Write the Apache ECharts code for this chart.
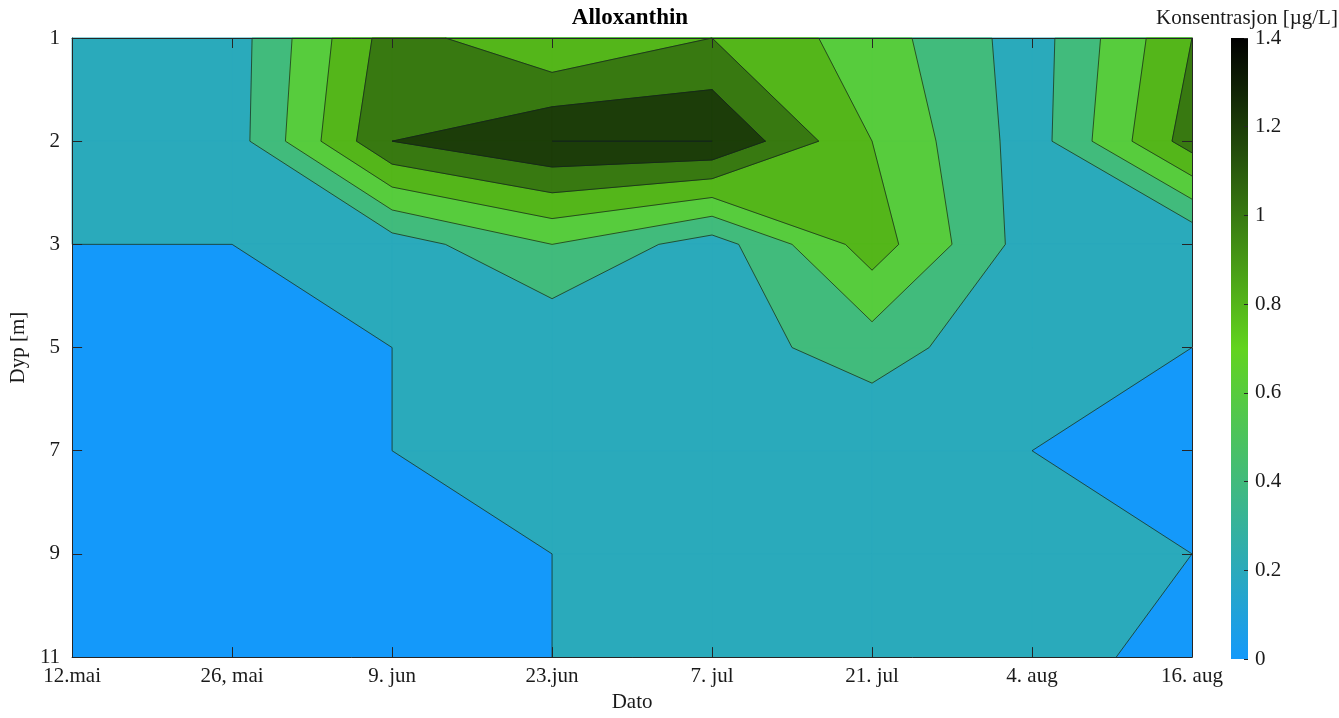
<!DOCTYPE html>
<html>
<head>
<meta charset="utf-8">
<script src="https://cdn.jsdelivr.net/npm/echarts@6/dist/echarts.min.js"></script>
<style>html,body{margin:0;padding:0;background:#fff}#chart{width:1339px;height:718px}</style>
</head>
<body>
<div id="chart"></div>
<script>
// ---- data ----
const dates = ['12.mai', '26, mai', '9. jun', '23.jun', '7. jul', '21. jul', '4. aug', '16. aug'];
const depths = ['1', '2', '3', '5', '7', '9', '11'];
// Alloxanthin concentration [µg/L], one array per depth, values per date
const depth1  = [0.1, 0.1, 0.9, 0.6, 0.8, 0.5, 0.1, 0.8];
const depth2  = [0.1, 0.1, 1.0, 1.2, 1.2, 0.6, 0.1, 0.9];
const depth3  = [0.0, 0.0, 0.1, 0.4, 0.1, 0.7, 0.1, 0.01];
const depth5  = [0.0, 0.0, 0.0, 0.02, 0.1, 0.3, 0.02, 0.0];
const depth7  = [0.0, 0.0, 0.0, 0.05, 0.1, 0.01, 0.0, -0.05];
const depth9  = [0.0, 0.0, 0.0, 0.0, 0.1, 0.1, 0.1, 0.0];
const depth11 = [0.0, 0.0, 0.0, 0.0, 0.1, 0.1, 0.1, -0.09];
const levels = [0, 0.2, 0.4, 0.6, 0.8, 1.0, 1.2];
const cbMin = 0, cbMax = 1.4, cbStep = 0.2;

const Z = [depth1, depth2, depth3, depth5, depth7, depth9, depth11];
const NX = dates.length, NY = depths.length;

// colormap: blue -> green -> black
const cmapStops = [[0, [20, 153, 250]], [0.7, [98, 212, 30]], [1.4, [0, 0, 0]]];
function cmap(v) {
  for (let s = 0; s < cmapStops.length - 1; s++) {
    const a = cmapStops[s], b = cmapStops[s + 1];
    if (v <= b[0] || s === cmapStops.length - 2) {
      const t = Math.max(0, Math.min(1, (v - a[0]) / (b[0] - a[0])));
      const c = a[1].map((x, n) => Math.round(x + (b[1][n] - x) * t));
      return 'rgb(' + c.join(',') + ')';
    }
  }
}

function cellCorners(i, j) {
  return [[i, j], [i + 1, j], [i + 1, j + 1], [i, j + 1]];
}
function val(p) { return Z[p[1]][p[0]]; }
function cross(a, b, L) {
  const va = val(a), vb = val(b);
  let t = (L - va) / (vb - va);
  t = Math.max(0, Math.min(1, t));
  return [a[0] + (b[0] - a[0]) * t, a[1] + (b[1] - a[1]) * t];
}
function fillPoly(i, j, L) {
  const c = cellCorners(i, j);
  const inside = p => val(p) > L + 1e-9;
  const pts = [];
  for (let n = 0; n < 4; n++) {
    const a = c[n], b = c[(n + 1) % 4];
    if (inside(a)) pts.push(a);
    if (inside(a) !== inside(b)) pts.push(cross(a, b, L));
  }
  return pts;
}
function lineSegs(i, j, L) {
  const c = cellCorners(i, j);
  const inside = L === 0 ? (p => val(p) > 1e-9) : (p => val(p) >= L - 1e-9);
  const cr = [];
  for (let n = 0; n < 4; n++) {
    const a = c[n], b = c[(n + 1) % 4];
    if (inside(a) !== inside(b)) cr.push({p: cross(a, b, L), exit: inside(a)});
  }
  const segs = [];
  for (let n = 0; n < cr.length; n++) {
    if (cr[n].exit) {
      const nx = cr[(n + 1) % cr.length];
      const p = cr[n].p, q = nx.p;
      if (Math.abs(p[0] - q[0]) + Math.abs(p[1] - q[1]) > 1e-6) segs.push([p, q]);
    }
  }
  return segs;
}

const cellData = [];
for (let k = 0; k < levels.length; k++)
  for (let j = 0; j < NY - 1; j++)
    for (let i = 0; i < NX - 1; i++) cellData.push([i, j, k]);

const font = "'Liberation Serif', 'Times New Roman', serif";
const ink = '#1a1a1a';
const axisCol = '#262626';
const fs = 21;

const chart = echarts.init(document.getElementById('chart'), null, {renderer: 'canvas'});
const option = {
  animation: false,
  backgroundColor: '#ffffff',
  title: [
    {text: 'Alloxanthin', left: 630, top: 7, padding: 0, textAlign: 'center',
     textStyle: {fontFamily: font, fontSize: 23, fontWeight: 'bold', color: '#000'}},
    {text: 'Konsentrasjon [µg/L]', left: 1247, top: 8, padding: 0, textAlign: 'center',
     textStyle: {fontFamily: font, fontSize: fs, fontWeight: 'normal', color: ink}}
  ],
  grid: [
    {left: 67, top: 38, width: 1125, height: 621, show: true, backgroundColor: cmap(cbMin), borderWidth: 0, containLabel: false},
    {left: 1231, top: 38, width: 17, height: 621, show: false, containLabel: false}
  ],
  xAxis: [
    {gridIndex: 0, type: 'value', min: 0, max: NX - 1, interval: 1, position: 'bottom', z: 10,
     axisLine: {show: true, onZero: false, lineStyle: {color: axisCol, width: 1}},
     axisTick: {show: true, inside: true, length: 10, lineStyle: {color: axisCol, width: 1}},
     axisLabel: {formatter: v => dates[v] || '', fontFamily: font, fontSize: fs, color: ink, margin: 9},
     splitLine: {show: false},
     name: 'Dato', nameLocation: 'middle', nameGap: 33,
     nameTextStyle: {fontFamily: font, fontSize: fs, color: ink}},
    {gridIndex: 0, type: 'value', min: 0, max: NX - 1, interval: 1, position: 'top', z: 10,
     axisLine: {show: true, onZero: false, lineStyle: {color: axisCol, width: 1}},
     axisTick: {show: true, inside: true, length: 10, lineStyle: {color: axisCol, width: 1}},
     axisLabel: {show: false}, splitLine: {show: false}},
    {gridIndex: 1, type: 'value', min: 0, max: 1, show: false}
  ],
  yAxis: [
    {gridIndex: 0, type: 'value', min: 0, max: NY - 1, interval: 1, inverse: true, position: 'left', z: 10,
     axisLine: {show: true, onZero: false, lineStyle: {color: axisCol, width: 1}},
     axisTick: {show: true, inside: true, length: 10, lineStyle: {color: axisCol, width: 1}},
     axisLabel: {formatter: v => depths[v] || '', fontFamily: font, fontSize: fs, color: ink, margin: 12},
     splitLine: {show: false},
     name: 'Dyp [m]', nameLocation: 'middle', nameGap: 36,
     nameTextStyle: {fontFamily: font, fontSize: fs, color: ink}},
    {gridIndex: 0, type: 'value', min: 0, max: NY - 1, interval: 1, inverse: true, position: 'right', z: 10,
     axisLine: {show: true, onZero: false, lineStyle: {color: axisCol, width: 1}},
     axisTick: {show: true, inside: true, length: 10, lineStyle: {color: axisCol, width: 1}},
     axisLabel: {show: false}, splitLine: {show: false}},
    {gridIndex: 1, type: 'value', min: cbMin, max: cbMax, interval: cbStep, position: 'right', z: 10,
     axisLine: {show: false, onZero: false},
     axisTick: {show: true, inside: true, length: 4, lineStyle: {color: axisCol, width: 1}},
     axisLabel: {fontFamily: font, fontSize: fs, color: ink, margin: 7},
     splitLine: {show: false}}
  ],
  series: [
    {
      type: 'custom', xAxisIndex: 0, yAxisIndex: 0, z: 2, silent: true,
      data: cellData,
      renderItem: function (params, api) {
        const i = api.value(0), j = api.value(1), k = api.value(2);
        const pts = fillPoly(i, j, levels[k]);
        if (pts.length < 3) return null;
        const color = cmap(k + 1 < levels.length ? levels[k + 1] : cbMax);
        return {type: 'polygon', z2: k,
          shape: {points: pts.map(p => api.coord(p))},
          style: {fill: color, stroke: color, lineWidth: 1}};
      }
    },
    {
      type: 'custom', xAxisIndex: 0, yAxisIndex: 0, z: 3, silent: true,
      data: cellData,
      renderItem: function (params, api) {
        const i = api.value(0), j = api.value(1), k = api.value(2);
        const segs = lineSegs(i, j, levels[k]);
        if (!segs.length) return null;
        return {type: 'group', children: segs.map(s => {
          const a = api.coord(s[0]), b = api.coord(s[1]);
          return {type: 'line', shape: {x1: a[0], y1: a[1], x2: b[0], y2: b[1]},
            style: {stroke: 'rgba(20,35,30,0.9)', lineWidth: 0.8}};
        })};
      }
    },
    {
      type: 'custom', xAxisIndex: 2, yAxisIndex: 2, z: 2, silent: true,
      data: [[0, cbMin]],
      renderItem: function (params, api) {
        const p0 = api.coord([0, cbMin]), p1 = api.coord([1, cbMax]);
        const stops = cmapStops.map(s => ({offset: (s[0] - cbMin) / (cbMax - cbMin), color: 'rgb(' + s[1].join(',') + ')'}));
        return {type: 'rect',
          shape: {x: p0[0], y: p1[1], width: p1[0] - p0[0], height: p0[1] - p1[1]},
          style: {fill: new echarts.graphic.LinearGradient(0, 1, 0, 0, stops)}};
      }
    }
  ]
};
chart.setOption(option);
</script>
</body>
</html>
